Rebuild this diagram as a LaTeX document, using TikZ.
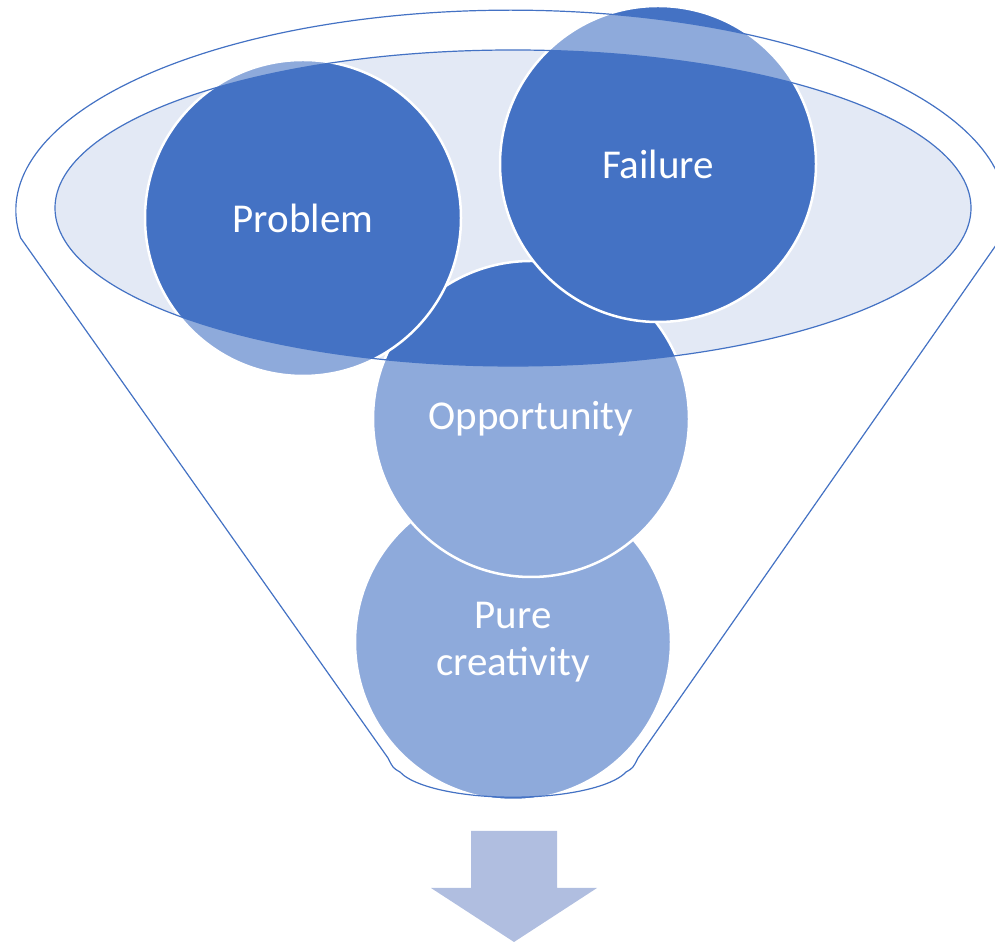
\documentclass[tikz,border=0pt]{standalone}
\usepackage{fontspec}
\setmainfont{Carlito}
\definecolor{funnelblue}{HTML}{4472C4}
\definecolor{rimfill}{HTML}{E3E9F5}
\definecolor{arrowfill}{HTML}{B0BEE0}
\begin{document}
\begin{tikzpicture}[x=1pt, y=1pt,
    bubble/.style={circle, draw=white, line width=2.5pt, fill=funnelblue, minimum size=316pt,
        inner sep=0pt, text=white, align=center, font=\fontsize{41}{47}\selectfont}]
    \useasboundingbox (0,0) rectangle (995,944);
    % mouth of the funnel
    \fill[rimfill] (513,736) ellipse [x radius=458, y radius=158];
    % bubbles, back to front
    \node[bubble] (creativity) at (513,302) {Pure\\creativity};
    \node[bubble] (opportunity) at (531,525) {Opportunity};
    \node[bubble] (problem) at (303,726) {Problem};
    \node[bubble] (failure) at (658,780) {Failure};
    % funnel body, see-through, with the mouth cut out
    \filldraw[fill=white, fill opacity=0.4, draw=funnelblue, line width=1.2pt, even odd rule]
        (1001,706) arc[start angle=-8, end angle=188, x radius=495, y radius=200]
        -- (388,186) .. controls (393,176) .. (400,172)
        arc[start angle=195, end angle=345, x radius=117, y radius=34]
        .. controls (633,176) .. (638,186)
        -- cycle
        (513,736) ellipse [x radius=458, y radius=158];
    % block arrow below
    \fill[arrowfill] (471,113) -- (557,113) -- (557,56) -- (597,56) -- (514,2)
        -- (431,56) -- (471,56) -- cycle;
\end{tikzpicture}
\end{document}
